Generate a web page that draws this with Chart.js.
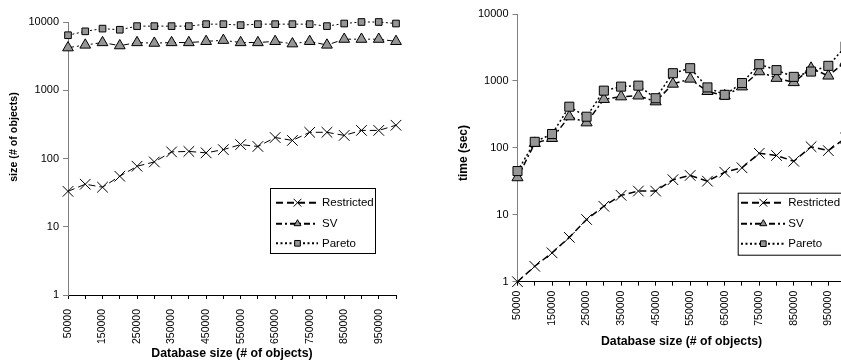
<!DOCTYPE html>
<html>
<head>
<meta charset="utf-8">
<script src="https://cdn.jsdelivr.net/npm/chart.js@4/dist/chart.umd.min.js"></script>
<style>
    html, body { margin: 0; padding: 0; overflow: hidden; background: #fff; width: 841px; height: 362px; }
    canvas { position: absolute; top: 0; }
    #canvasTamano { left: 0; }
    #canvasTiempo { left: 420px; }
</style>
</head>
<body>
<canvas id="canvasTamano" width="420" height="362"></canvas>
<canvas id="canvasTiempo" width="450" height="362"></canvas>
<script>
// datos
var categorias = ["50000", "100000", "150000", "200000", "250000", "300000", "350000", "400000", "450000", "500000",
    "550000", "600000", "650000", "700000", "750000", "800000", "850000", "900000", "950000", "1000000"];
var etiquetasY = [1, 10, 100, 1000, 10000];
var nombresSeries = ["Restricted", "SV", "Pareto"];

var tamanoRestricted = [33, 42, 38, 55, 77, 89, 125, 127, 121, 135, 160, 150, 203, 184, 242, 242, 218, 258, 258, 307];
var tamanoSV = [4200, 4600, 5000, 4500, 5000, 4900, 5000, 5000, 5200, 5400, 5000, 5000, 5200, 4800, 5200, 4600, 5600, 5600, 5600, 5200];
var tamanoPareto = [6400, 7300, 8000, 7700, 8700, 8700, 8700, 8700, 9300, 9300, 9000, 9300, 9300, 9300, 9300, 8700, 9500, 10000, 10000, 9500];

var tiempoRestricted = [1, 1.7, 2.7, 4.6, 8.5, 13.4, 19.5, 22.6, 22.6, 33.4, 38.7, 31.8, 43.3, 50.4, 83, 77, 63, 104, 91, 140];
var tiempoSV = [36, 117, 139, 293, 238, 532, 582, 600, 490, 900, 1071, 700, 600, 820, 1380, 1100, 950, 1550, 1190, 1950];
var tiempoPareto = [45, 123, 161, 412, 292, 716, 822, 850, 551, 1304, 1550, 800, 620, 930, 1780, 1450, 1150, 1380, 1680, 3300];

var FUENTE = '"Liberation Sans", Arial, sans-serif';
var GRIS = "#969696";

function dibujarMarcador(ctx, estilo, r, x, y) {
    ctx.beginPath();
    if (estilo === "crossRot") {
        var d = r * Math.SQRT1_2;
        ctx.moveTo(x - d, y - d); ctx.lineTo(x + d, y + d);
        ctx.moveTo(x - d, y + d); ctx.lineTo(x + d, y - d);
        ctx.stroke();
        return;
    }
    if (estilo === "rect") {
        var s = r * Math.SQRT1_2;
        ctx.rect(x - s, y - s, 2 * s, 2 * s);
    } else {
        ctx.moveTo(x, y - r);
        ctx.lineTo(x + 0.866 * r, y + r / 2);
        ctx.lineTo(x - 0.866 * r, y + r / 2);
        ctx.closePath();
    }
    ctx.fill();
    ctx.stroke();
}

// titulos de ejes y leyenda estilo Excel
var pluginTextos = {
    id: "textos",
    afterDraw: function (chart, args, opts) {
        var ctx = chart.ctx;
        var area = chart.chartArea;
        ctx.save();
        ctx.fillStyle = "#000";
        ctx.textAlign = "center";
        ctx.textBaseline = "middle";
        ctx.font = "bold 12.3px " + FUENTE;
        ctx.fillText(opts.tituloX, (area.left + area.right) / 2, opts.yTituloX);
        ctx.translate(opts.xTituloY, opts.yTituloY);
        ctx.rotate(-Math.PI / 2);
        ctx.font = "bold " + opts.tamTituloY + "px " + FUENTE;
        ctx.fillText(opts.tituloY, 0, 0);
        ctx.restore();

        var ley = opts.leyenda;
        ctx.save();
        ctx.fillStyle = "#fff";
        ctx.fillRect(ley.x, ley.y, ley.w, ley.h);
        ctx.strokeStyle = "#000";
        ctx.lineWidth = 1;
        ctx.strokeRect(ley.x + 0.5, ley.y + 0.5, ley.w, ley.h);
        chart.data.datasets.forEach(function (ds, i) {
            var y = ley.filas[i];
            ctx.strokeStyle = "#000";
            ctx.lineWidth = 2;
            ctx.setLineDash(ds.borderDash);
            ctx.beginPath();
            ctx.moveTo(ley.x0, y);
            ctx.lineTo(ley.x1, y);
            ctx.stroke();
            ctx.setLineDash([]);
            ctx.lineWidth = 1;
            ctx.fillStyle = ds.pointBackgroundColor;
            ctx.strokeStyle = ds.pointBorderColor;
            dibujarMarcador(ctx, ds.pointStyle, ds.pointStyle === "crossRot" ? 5.5 : 4, ley.xm, y);
            ctx.fillStyle = "#000";
            ctx.font = "11.5px " + FUENTE;
            ctx.textAlign = "left";
            ctx.textBaseline = "middle";
            ctx.fillText(ds.label, ley.xt, y + 0.5);
        });
        ctx.restore();
    }
};

function crearSeries(valores, anchoLinea, radios) {
    var estilos = ["crossRot", "triangle", "rect"];
    var guiones = [[7, 4], [6, 3, 2, 3], [2, 2.5]];
    var series = [];
    for (let i = 0; i < valores.length; i++) {
        series.push({
            label: nombresSeries[i],
            data: valores[i],
            borderColor: "#000",
            borderWidth: anchoLinea,
            borderDash: guiones[i],
            pointStyle: estilos[i],
            pointRadius: radios[i],
            pointBackgroundColor: i === 0 ? "#000" : GRIS,
            pointBorderColor: "#000",
            pointBorderWidth: 1,
            tension: 0,
            clip: false,
            order: 3 - i
        });
    }
    return series;
}

function crearGrafica(canvas, series, conf) {
    return new Chart(canvas, {
        type: "line",
        data: { labels: categorias, datasets: series },
        options: {
            responsive: false,
            animation: false,
            devicePixelRatio: 1,
            layout: { padding: { left: 0, top: conf.arriba, right: conf.derecha, bottom: 0 } },
            plugins: {
                legend: { display: false },
                tooltip: { enabled: false },
                textos: conf.textos
            },
            scales: {
                x: {
                    type: "category",
                    offset: false,
                    border: { display: true, color: "#000", width: 1 },
                    grid: { drawOnChartArea: false, color: "#000", tickLength: 4 },
                    ticks: {
                        autoSkip: false,
                        minRotation: 90,
                        maxRotation: 90,
                        padding: conf.separacionX,
                        color: "#000",
                        font: { family: FUENTE, size: 10.5 },
                        callback: function (valor, indice) {
                            return indice % 2 === 0 ? this.getLabelForValue(valor) : "";
                        }
                    },
                    afterFit: function (escala) { escala.height = conf.altoX; }
                },
                y: {
                    type: "logarithmic",
                    min: 1,
                    max: 10000,
                    border: { display: true, color: "#808080", width: 1 },
                    grid: { drawOnChartArea: false, color: "#808080", tickLength: 5 },
                    ticks: {
                        padding: 4,
                        color: "#000",
                        font: { family: FUENTE, size: 11 },
                        callback: function (valor) { return String(valor); }
                    },
                    afterBuildTicks: function (escala) {
                        escala.ticks = etiquetasY.map(function (v) { return { value: v }; });
                    },
                    afterFit: function (escala) { escala.width = conf.anchoY; }
                }
            }
        },
        plugins: [pluginTextos]
    });
}

document.addEventListener("DOMContentLoaded", function () {
    crearGrafica(document.getElementById("canvasTamano"),
        crearSeries([tamanoRestricted, tamanoSV, tamanoPareto], 1, [7.5, 6.2, 4.7]), {
            arriba: 22, derecha: 24, altoX: 67, anchoY: 68, separacionX: 10,
            textos: {
                tituloX: "Database size (# of objects)", yTituloX: 354,
                tituloY: "size (# of objects)", xTituloY: 14, yTituloY: 137, tamTituloY: 10.7,
                leyenda: { x: 270, y: 188, w: 105, h: 65, filas: [202.7, 223.7, 243.3], x0: 276, x1: 318, xm: 297.5, xt: 322 }
            }
        });

    crearGrafica(document.getElementById("canvasTiempo"),
        crearSeries([tiempoRestricted, tiempoSV, tiempoPareto], 1.5, [7.5, 6.4, 6.4]), {
            arriba: 14, derecha: 24.4, altoX: 80.3, anchoY: 97.5, separacionX: 5,
            textos: {
                tituloX: "Database size (# of objects)", yTituloX: 341.7,
                tituloY: "time (sec)", xTituloY: 43.3, yTituloY: 153, tamTituloY: 12,
                leyenda: { x: 317.7, y: 192.7, w: 120, h: 62, filas: [202.7, 223.7, 243.7], x0: 321, x1: 365, xm: 343.3, xt: 368.3 }
            }
        });
});
</script>
</body>
</html>
